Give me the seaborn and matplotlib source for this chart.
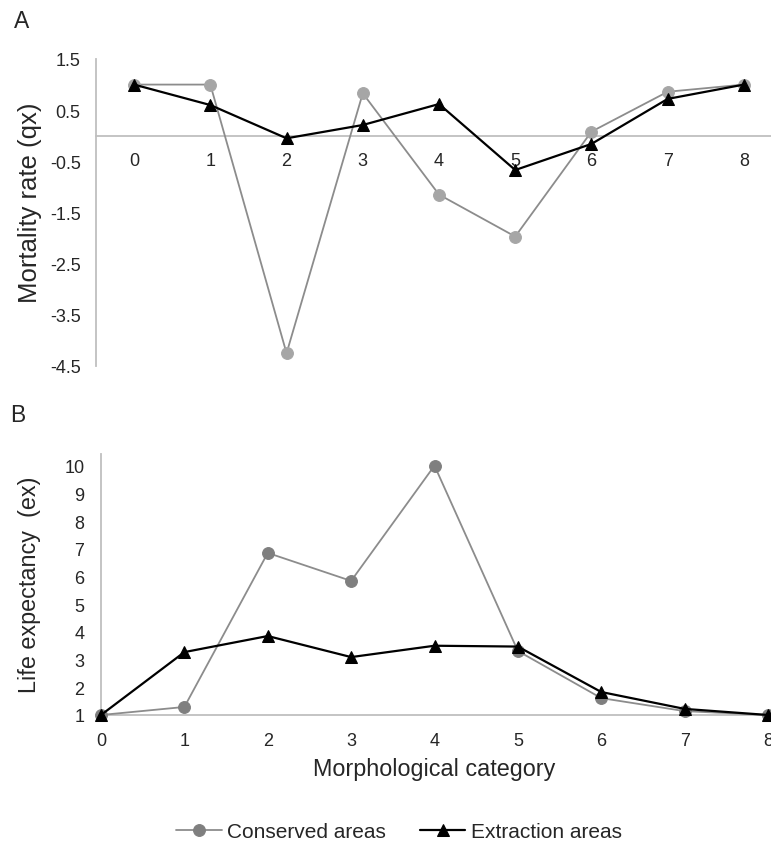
import numpy as np
import pandas as pd
import matplotlib
matplotlib.use("Agg")
import matplotlib.pyplot as plt
import seaborn as sns

# ---- data ----
categories = [0, 1, 2, 3, 4, 5, 6, 7, 8]
qx_conserved = [1.0, 1.0, -4.25, 0.83, -1.15, -1.97, 0.08, 0.86, 1.0]
qx_extraction = [1.0, 0.6, -0.05, 0.21, 0.62, -0.67, -0.16, 0.72, 1.0]
ex_conserved = [1.0, 1.29, 6.85, 5.84, 10.0, 3.31, 1.61, 1.14, 1.0]
ex_extraction = [1.0, 3.27, 3.85, 3.09, 3.5, 3.47, 1.83, 1.22, 1.0]
qx_ticks = [1.5, 0.5, -0.5, -1.5, -2.5, -3.5, -4.5]
ex_ticks = [1, 2, 3, 4, 5, 6, 7, 8, 9, 10]
series_names = ["Conserved areas", "Extraction areas"]

sns.set_style("white")
plt.rcParams["font.family"] = ["Liberation Sans", "DejaVu Sans"]

W, H = 771, 845
fig = plt.figure(figsize=(W / 100, H / 100), dpi=100)

def fr(x0, y0, x1, y1):
    return [x0 / W, 1 - y1 / H, (x1 - x0) / W, (y1 - y0) / H]

axA = fig.add_axes(fr(96, 60, 782, 367))
axB = fig.add_axes(fr(101, 455, 768, 716))

dfA = pd.DataFrame({"cat": categories, "cons": qx_conserved, "ext": qx_extraction})
dfB = pd.DataFrame({"cat": categories, "cons": ex_conserved, "ext": ex_extraction})

line_gray = "#8c8c8c"
TICK = 13
# ---- panel A ----
sns.lineplot(data=dfA, x="cat", y="cons", ax=axA, color=line_gray, lw=1.3,
             marker="o", markersize=8.5, markerfacecolor="#a6a6a6",
             markeredgecolor="#a6a6a6", clip_on=False, zorder=3)
sns.lineplot(data=dfA, x="cat", y="ext", ax=axA, color="black", lw=1.6,
             marker="^", markersize=9, markerfacecolor="black",
             markeredgecolor="black", clip_on=False, zorder=4)
axA.set_xlim(-0.5, 8.5)
axA.set_ylim(-4.5, 1.5)
axA.set_yticks(qx_ticks)
axA.set_yticklabels([f"{t:.1f}" for t in qx_ticks])
axA.set_xticks(categories)
axA.spines["top"].set_visible(False)
axA.spines["right"].set_visible(False)
axA.spines["bottom"].set_position(("data", 0))
axA.spines["bottom"].set_color("#bfbfbf")
axA.spines["left"].set_color("#bfbfbf")
axA.spines["bottom"].set_linewidth(1.3)
axA.spines["left"].set_linewidth(1.3)
axA.tick_params(axis="x", length=0, pad=12, labelsize=TICK)
axA.tick_params(axis="y", length=0, pad=11, labelsize=TICK)
axA.set_xlabel("")
axA.set_ylabel("Mortality rate (qx)", fontsize=18.5, va="center")
axA.yaxis.set_label_coords((30 - 96) / 686, (367 - 203) / 307)

# ---- panel B ----
sns.lineplot(data=dfB, x="cat", y="cons", ax=axB, color=line_gray, lw=1.3,
             marker="o", markersize=8.5, markerfacecolor="#7f7f7f",
             markeredgecolor="#7f7f7f", clip_on=False, zorder=3,
             label=series_names[0])
sns.lineplot(data=dfB, x="cat", y="ext", ax=axB, color="black", lw=1.6,
             marker="^", markersize=9, markerfacecolor="black",
             markeredgecolor="black", clip_on=False, zorder=4,
             label=series_names[1])
axB.set_xlim(0, 8)
axB.set_ylim(1, 10.42)
axB.set_yticks(ex_ticks)
axB.set_xticks(categories)
axB.spines["top"].set_visible(False)
axB.spines["right"].set_visible(False)
axB.spines["bottom"].set_color("#bfbfbf")
axB.spines["left"].set_color("#bfbfbf")
axB.spines["bottom"].set_linewidth(1.3)
axB.spines["left"].set_linewidth(1.3)
axB.tick_params(axis="x", length=0, pad=12, labelsize=TICK)
axB.tick_params(axis="y", length=0, pad=12, labelsize=TICK)
axB.set_ylabel("Life expectancy  (ex)", fontsize=16.8, va="center")
axB.yaxis.set_label_coords((30 - 101) / 667, (716 - 585) / 261)
axB.set_xlabel("Morphological category", fontsize=16.8, va="center")
axB.xaxis.set_label_coords((434 - 101) / 667, (716 - 770) / 261)

handles, labels = axB.get_legend_handles_labels()
if axB.get_legend() is not None:
    axB.get_legend().remove()
fig.legend(handles, labels, loc="center", ncol=2,
           bbox_to_anchor=(399 / W, 1 - 833 / H), frameon=False,
           fontsize=15, handlelength=2.2, handletextpad=0.25,
           columnspacing=1.6, borderaxespad=0)

fig.text(22 / W, 1 - 22 / H, "A", fontsize=16.5, ha="center", va="center")
fig.text(18 / W, 1 - 415 / H, "B", fontsize=16.5, ha="center", va="center")

fig.savefig("out.png", dpi=100)
